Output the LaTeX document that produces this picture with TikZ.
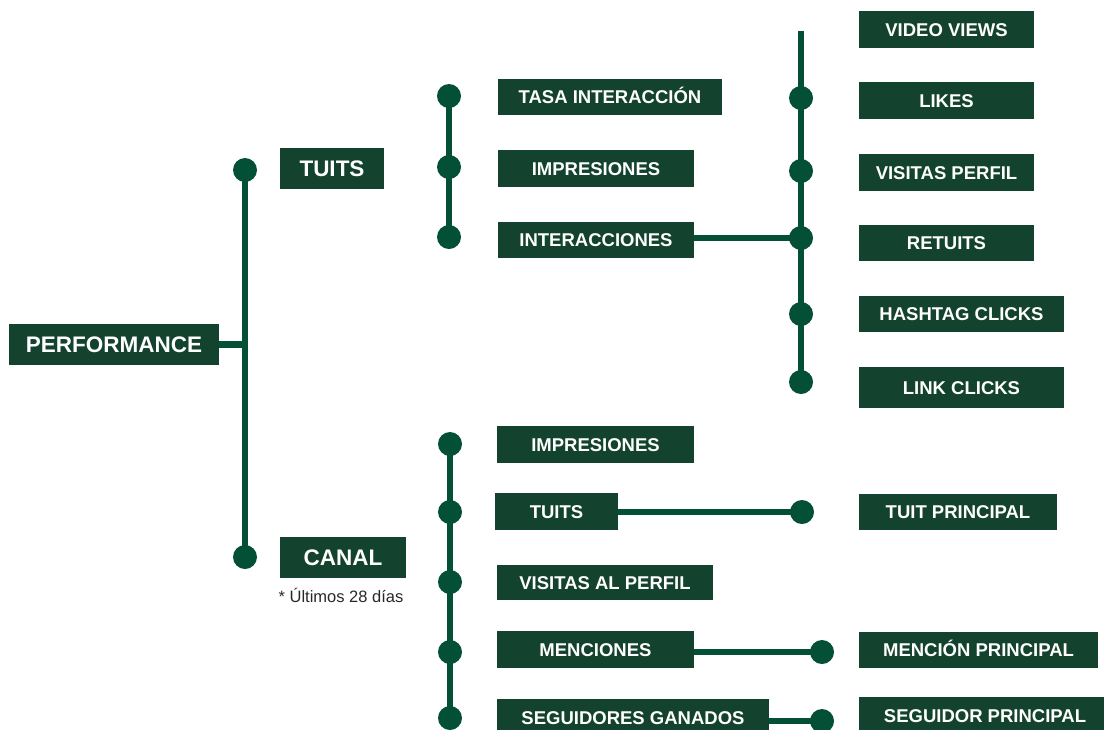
\documentclass[tikz,border=0pt]{standalone}
\usepackage{fontspec}
\setmainfont{Liberation Sans}
\definecolor{boxgreen}{RGB}{19,67,46}
\definecolor{linegreen}{RGB}{3,80,55}
\definecolor{notegray}{RGB}{40,40,40}
\begin{document}
\begin{tikzpicture}[x=1pt,y=-1pt,
  metricbox/.style={fill=boxgreen, text=white, inner sep=0pt,
    font=\bfseries\fontsize{18.5}{20}\selectfont, text height=13.3pt, text depth=0pt,
    minimum height=36pt, minimum width=#1},
  headbox/.style={fill=boxgreen, text=white, inner sep=0pt,
    font=\bfseries\fontsize{22.5}{24}\selectfont, text height=16.1pt, text depth=0pt,
    minimum height=41pt, minimum width=#1},
  dotnode/.style={circle, fill=linegreen, minimum size=24pt, inner sep=0pt},
  linkline/.style={draw=linegreen, line width=6.5pt}]
\useasboundingbox (0,0) rectangle (1104,729);
\clip (0,0) rectangle (1104,729);

% ---- level 0 / 1
\node[headbox=210] (perf) at (114,344.5) {PERFORMANCE};
\node[headbox=104] (tuits) at (332,168.5) {TUITS};
\node[headbox=126] (canal) at (343,557.5) {CANAL};
\node[font=\fontsize{16.5}{18}\selectfont, text=notegray, inner sep=0pt] (note) at (341,595) {* Últimos 28 días};

\node[dotnode] (d1) at (245,170) {};
\node[dotnode] (d2) at (245,557) {};
\draw[linkline] (d1.center) -- (d2.center);
\draw[linkline] (perf.east) -- (perf.east -| d1.center);

% ---- TUITS branch
\node[metricbox=224] (ta) at (610,97) {TASA INTERACCIÓN};
\node[metricbox=196, minimum height=37pt] (im1) at (596,168.5) {IMPRESIONES};
\node[metricbox=196] (in1) at (596,240) {INTERACCIONES};
\node[dotnode] (t1) at (449,96) {};
\node[dotnode] (t2) at (449,167) {};
\node[dotnode] (t3) at (449,237) {};
\draw[linkline] (t1.center) -- (t3.center);

% ---- INTERACCIONES branch
\coordinate (rtop) at (801,31);
\node[dotnode] (r1) at (801,98) {};
\node[dotnode] (r2) at (801,171) {};
\node[dotnode] (r3) at (801,238) {};
\node[dotnode] (r4) at (801,314) {};
\node[dotnode] (r5) at (801,382) {};
\draw[linkline] (rtop) -- (r5.center);
\draw[linkline] (in1.east |- r3.center) -- (r3.center);

\node[metricbox=175, minimum height=37pt] (vv) at (946.5,29.5) {VIDEO VIEWS};
\node[metricbox=175, minimum height=37pt] (li) at (946.5,100.5) {LIKES};
\node[metricbox=175, minimum height=37pt] (vp) at (946.5,172.5) {VISITAS PERFIL};
\node[metricbox=175] (rt) at (946.5,243) {RETUITS};
\node[metricbox=205] (hc) at (961.5,314) {HASHTAG CLICKS};
\node[metricbox=205, minimum height=41pt] (lc) at (961.5,387.5) {LINK CLICKS};

% ---- CANAL branch
\node[dotnode] (c1) at (450,444) {};
\node[dotnode] (c2) at (450,512) {};
\node[dotnode] (c3) at (450,582) {};
\node[dotnode] (c4) at (450,652) {};
\node[dotnode] (c5) at (450,718) {};
\draw[linkline] (c1.center) -- (c5.center);

\node[metricbox=197, minimum height=37pt] (im2) at (595.5,444.5) {IMPRESIONES};
\node[metricbox=123, minimum height=37pt] (tu2) at (556.5,511.5) {TUITS};
\node[metricbox=216, minimum height=35pt] (va) at (605,582.5) {VISITAS AL PERFIL};
\node[metricbox=197, minimum height=37pt] (me) at (595.5,649.5) {MENCIONES};
\node[metricbox=272, minimum height=37pt] (sg) at (633,717.5) {SEGUIDORES GANADOS};

\node[dotnode] (e1) at (802,512) {};
\node[dotnode] (e2) at (822,652) {};
\node[dotnode] (e3) at (822,721) {};
\draw[linkline] (tu2.east |- e1.center) -- (e1.center);
\draw[linkline] (me.east |- e2.center) -- (e2.center);
\draw[linkline] (sg.east |- e3.center) -- (e3.center);

\node[metricbox=198] (tp) at (958,512) {TUIT PRINCIPAL};
\node[metricbox=239] (mp) at (978.5,650) {MENCIÓN PRINCIPAL};
\node[metricbox=252, minimum height=37pt] (sp) at (985,715.5) {SEGUIDOR PRINCIPAL};
\end{tikzpicture}
\end{document}
